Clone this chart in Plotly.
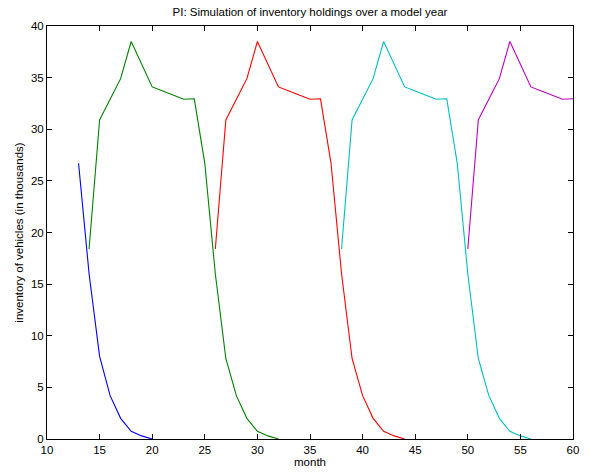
import plotly.graph_objects as go

# Inventory holdings (thousands of vehicles) per model-year cohort, by month
blue_months = [13, 14, 15, 16, 17, 18, 19, 20]
blue_values = [26.7, 16.0, 8.0, 4.2, 2.0, 0.74, 0.3, 0.0]

green_months = list(range(14, 33))
green_values = [18.4, 30.9, 32.9, 34.9, 38.5, 36.3, 34.1, 33.7, 33.3, 32.9,
                32.95, 26.7, 16.0, 7.8, 4.2, 2.0, 0.74, 0.3, 0.0]

red_months = list(range(26, 45))
red_values = [18.4, 30.9, 32.9, 34.9, 38.5, 36.3, 34.1, 33.7, 33.3, 32.9,
              32.95, 26.7, 16.0, 7.8, 4.2, 2.0, 0.74, 0.3, 0.0]

cyan_months = list(range(38, 57))
cyan_values = [18.4, 30.9, 32.9, 34.9, 38.5, 36.3, 34.1, 33.7, 33.3, 32.9,
               32.95, 26.7, 16.0, 7.8, 4.2, 2.0, 0.74, 0.3, 0.0]

magenta_months = list(range(50, 61))
magenta_values = [18.4, 30.9, 32.9, 34.9, 38.5, 36.3, 34.1, 33.7, 33.3, 32.9,
                  32.95]

x_ticks = list(range(10, 61, 5))
y_ticks = list(range(0, 41, 5))

series = [
    (blue_months, blue_values, "rgb(0,0,255)"),
    (green_months, green_values, "rgb(0,128,0)"),
    (red_months, red_values, "rgb(255,0,0)"),
    (cyan_months, cyan_values, "rgb(0,191,191)"),
    (magenta_months, magenta_values, "rgb(191,0,191)"),
]

fig = go.Figure()
for months, values, color in series:
    fig.add_trace(go.Scatter(x=months, y=values, mode="lines",
                             line=dict(color=color, width=1.1),
                             showlegend=False, hoverinfo="x+y"))

font = dict(family="Liberation Sans, Arial, sans-serif", size=11.5, color="black")

axis_common = dict(
    showgrid=False, zeroline=False, showline=True, linecolor="black",
    linewidth=1, mirror="ticks", ticks="inside", ticklen=5,
    tickcolor="black", tickwidth=1, tickfont=font, automargin=False,
)

fig.update_layout(
    width=589, height=472,
    margin=dict(l=47, r=16, t=26, b=33),
    paper_bgcolor="white", plot_bgcolor="white",
    font=font,
    title=dict(text="PI: Simulation of inventory holdings over a model year",
               x=(47 + 573) / 2 / 589, xanchor="center",
               y=1 - 12 / 472, yanchor="middle", yref="container",
               font=dict(family="Liberation Sans, Arial, sans-serif", size=11.5,
                         color="black")),
    xaxis=dict(range=[10, 60], tickvals=x_ticks,
               ticktext=[str(v) for v in x_ticks],
               title=dict(text="month", standoff=2, font=font),
               **axis_common),
    yaxis=dict(range=[0, 40], tickvals=y_ticks,
               ticktext=[str(v) for v in y_ticks],
               title=dict(text="inventory of vehicles (in thousands)",
                          standoff=4, font=font),
               **axis_common),
)

fig.write_html("out.html")
